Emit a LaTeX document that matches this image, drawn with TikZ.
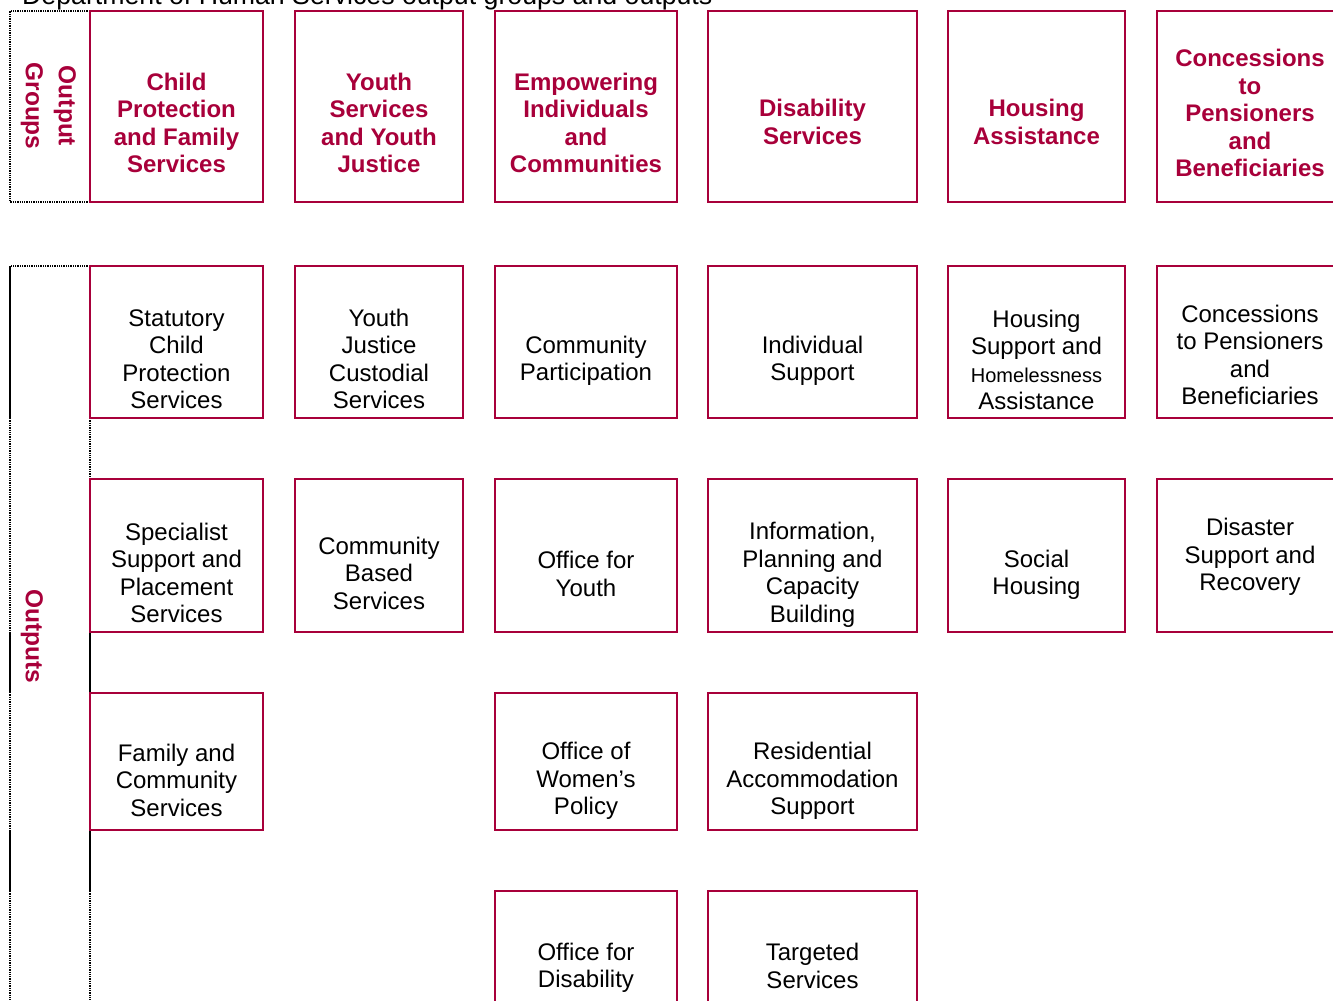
\documentclass[tikz,border=0pt]{standalone}
\usepackage{fontspec}
\setmainfont{Liberation Sans}
\definecolor{dhsred}{RGB}{168,0,58}
\tikzset{
  boxst/.style={draw=dhsred, line width=2.5pt, rectangle, inner sep=0pt, outer sep=0pt},
  grptxt/.style={text=dhsred, align=center, inner sep=0pt, font=\fontsize{24}{27.5}\selectfont\bfseries},
  outtxt/.style={text=black, align=center, inner sep=0pt, font=\fontsize{24}{27.5}\selectfont},
  sidetxt/.style={text=dhsred, align=center, inner sep=0pt, rotate=-90, font=\fontsize{24.5}{33}\selectfont\bfseries},
  frame/.style={black, line width=1.3pt, densely dotted},
  framesolid/.style={black, line width=1.6pt},
}
% #1 text style, #2 name, #3 x1, #4 y1, #5 x2, #6 y2, #7 text centre y, #8 text
\newcommand\dhsbox[8]{%
  \node[boxst, minimum width={(#5-#3)*1pt}, minimum height={(#6-#4)*1pt}] (#2) at ({(#3+#5)/2},{(#4+#6)/2}) {};
  \node[#1] (#2-t) at ({(#3+#5)/2},{#7+2}) {#8};
}
\begin{document}
\begin{tikzpicture}[x=1pt,y=-1pt]
\useasboundingbox (0,0) rectangle (1333,1001);
\clip (0,0) rectangle (1333,1001);

% title
\node[anchor=base west, inner sep=0pt, font=\fontsize{26.7}{30}\selectfont] (title) at (22,5) {Department of Human Services output groups and outputs};

% side frames
\draw[frame] (90,11) -- (10,11) -- (10,202) -- (90,202);
\draw[frame] (90,266) -- (10,266);
\draw[framesolid] (10,266) -- (10,418);
\draw[frame] (10,418) -- (10,632);
\draw[framesolid] (10,632) -- (10,692);
\draw[frame] (10,692) -- (10,830);
\draw[framesolid] (10,830) -- (10,891);
\draw[frame] (10,891) -- (10,1010);
\draw[frame] (90,418) -- (90,479);
\draw[framesolid] (90,632) -- (90,693);
\draw[framesolid] (90,830) -- (90,891);
\draw[frame] (90,891) -- (90,1010);

\node[sidetxt] (lblgroups) at (48.5,106) {Output\\Groups};
\node[sidetxt] (lbloutputs) at (32,636) {Outputs};

% output groups
\dhsbox{grptxt}{g1}{90}{11}{263}{202}{121}{Child\\Protection\\and Family\\Services}
\dhsbox{grptxt}{g2}{295}{11}{463}{202}{121}{Youth\\Services\\and Youth\\Justice}
\dhsbox{grptxt}{g3}{495}{11}{677}{202}{121}{Empowering\\Individuals\\and\\Communities}
\dhsbox{grptxt}{g4}{708}{11}{917}{202}{120}{Disability\\Services}
\dhsbox{grptxt}{g5}{948}{11}{1125}{202}{120}{Housing\\Assistance}
\dhsbox{grptxt}{g6}{1157}{11}{1343}{202}{111}{Concessions\\to\\Pensioners\\and\\Beneficiaries}

% outputs row 1
\dhsbox{outtxt}{o11}{90}{266}{263}{418}{357}{Statutory\\Child\\Protection\\Services}
\dhsbox{outtxt}{o12}{295}{266}{463}{418}{357}{Youth\\Justice\\Custodial\\Services}
\dhsbox{outtxt}{o13}{495}{266}{677}{418}{359}{Community\\Participation}
\dhsbox{outtxt}{o14}{708}{266}{917}{418}{359}{Individual\\Support}
\dhsbox{outtxt}{o15}{948}{266}{1125}{418}{358}{Housing\\Support and\\{\fontsize{20}{27.5}\selectfont Homelessness}\\Assistance}
\dhsbox{outtxt}{o16}{1157}{266}{1343}{418}{353}{Concessions\\to Pensioners\\and\\Beneficiaries}

% outputs row 2
\dhsbox{outtxt}{o21}{90}{479}{263}{632}{571}{Specialist\\Support and\\Placement\\Services}
\dhsbox{outtxt}{o22}{295}{479}{463}{632}{571}{Community\\Based\\Services}
\dhsbox{outtxt}{o23}{495}{479}{677}{632}{572}{Office for\\Youth}
\dhsbox{outtxt}{o24}{708}{479}{917}{632}{573}{Information,\\Planning and\\Capacity\\Building}
\dhsbox{outtxt}{o25}{948}{479}{1125}{632}{573}{Social\\Housing}
\dhsbox{outtxt}{o26}{1157}{479}{1343}{632}{555}{Disaster\\Support and\\Recovery}

% outputs row 3
\dhsbox{outtxt}{o31}{90}{693}{263}{830}{778}{Family and\\Community\\Services}
\dhsbox{outtxt}{o33}{495}{693}{677}{830}{779}{Office of\\Women’s\\Policy}
\dhsbox{outtxt}{o34}{708}{693}{917}{830}{779}{Residential\\Accommodation\\Support}

% outputs row 4
\dhsbox{outtxt}{o43}{495}{891}{677}{1030}{966}{Office for\\Disability}
\dhsbox{outtxt}{o44}{708}{891}{917}{1030}{964}{Targeted\\Services}
\end{tikzpicture}
\end{document}
